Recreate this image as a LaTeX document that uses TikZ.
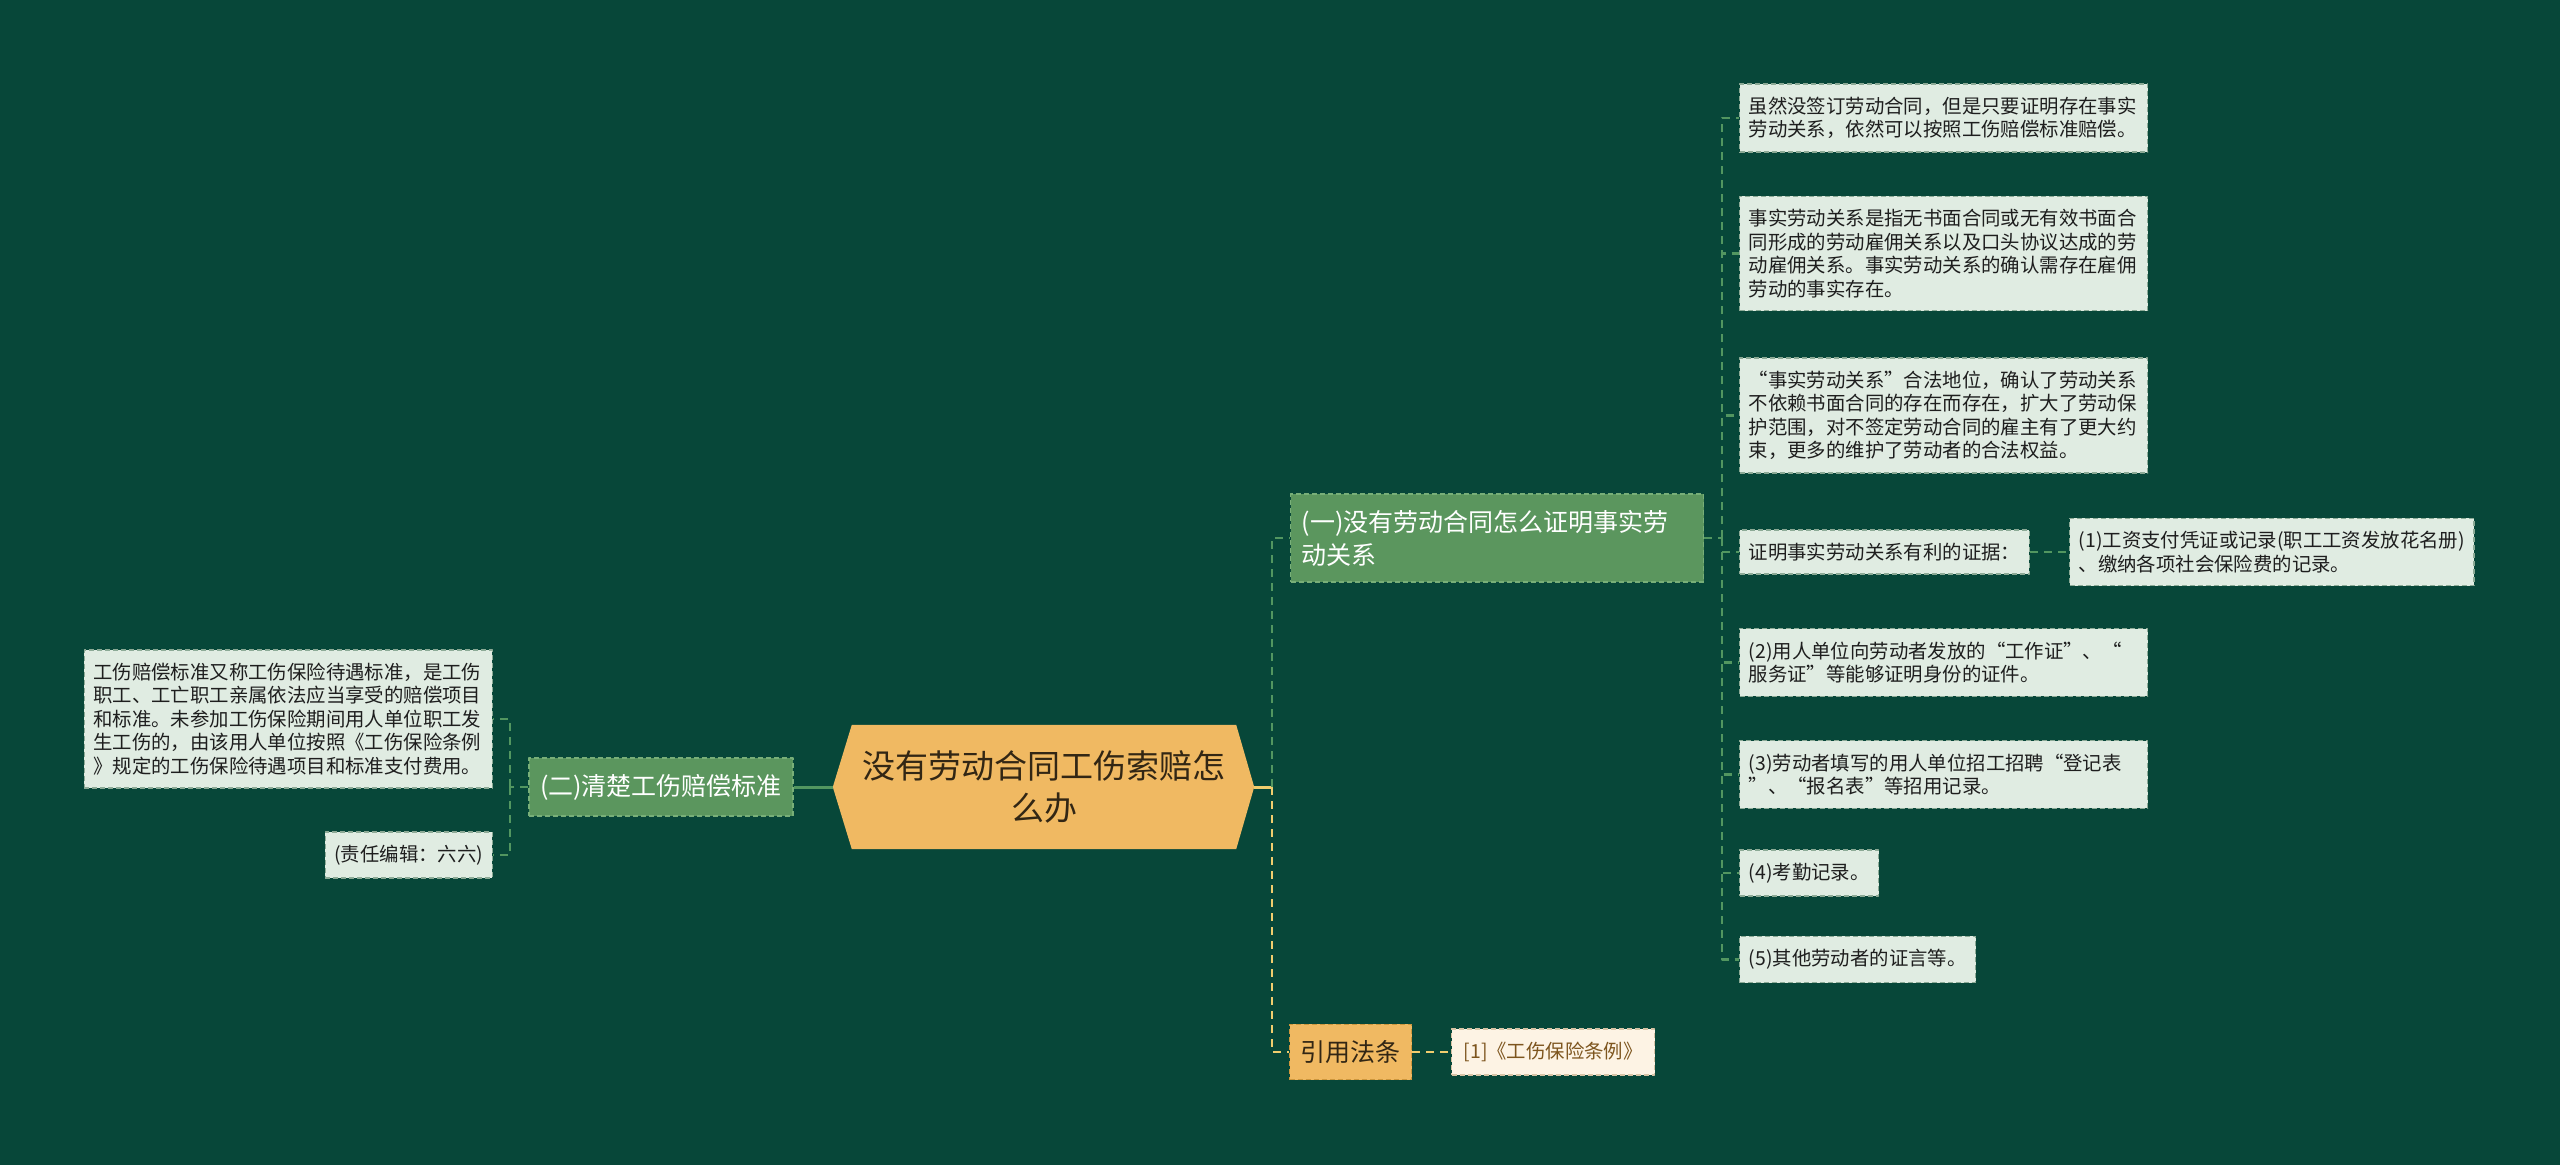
\documentclass[tikz,border=0pt]{standalone}
\usepackage{fontspec}
\newfontfamily\cjk{Noto Sans CJK SC}
\usetikzlibrary{backgrounds}
\begin{document}
\begin{tikzpicture}[x=1pt, y=-1pt, line join=round,
  leaf/.style={draw=leafedge, fill=leafbg, dash pattern=on 5pt off 3pt, line width=1.4pt,
    text=leafink, font=\cjk\fontsize{19.4}{23.5}\selectfont, inner xsep=9pt, inner ysep=13pt,
    align=left, anchor=west},
  wideleaf/.style={leaf, text width=390pt},
  topic/.style={draw=topicedge, fill=topicbg, dash pattern=on 5pt off 3pt, line width=1.4pt,
    text=white, font=\cjk\fontsize{25}{33}\selectfont, inner xsep=11pt, inner ysep=16pt, align=left},
  lawnode/.style={topic, draw=lawedge, fill=rootbg, text=rootink},
  lawleaf/.style={leaf, draw=creamedge, fill=creambg, text=creamink},
  glink/.style={draw=linkgreen, line width=2.2pt, dash pattern=on 8pt off 6pt},
  olink/.style={glink, draw=linkorange}]
  \definecolor{pagebg}{RGB}{7,71,57}
  \definecolor{topicbg}{RGB}{91,150,94}
  \definecolor{topicedge}{RGB}{120,175,120}
  \definecolor{rootbg}{RGB}{240,185,98}
  \definecolor{rootink}{RGB}{50,38,20}
  \definecolor{lawedge}{RGB}{205,150,60}
  \definecolor{leafbg}{RGB}{224,236,226}
  \definecolor{leafedge}{RGB}{140,170,150}
  \definecolor{leafink}{RGB}{30,30,30}
  \definecolor{creambg}{RGB}{253,243,228}
  \definecolor{creamedge}{RGB}{215,195,165}
  \definecolor{creamink}{RGB}{125,85,30}
  \definecolor{linkgreen}{RGB}{82,150,96}
  \definecolor{linkorange}{RGB}{240,205,110}
  \useasboundingbox (0,0) rectangle (2560,1165);

  \node[text=rootink, font=\cjk\fontsize{33}{42}\selectfont, minimum width=384pt, minimum height=124pt,
    text width=370pt, align=center, inner sep=0pt] (root) at (1044,787) {没有劳动合同工伤索赔怎\\么办};
  \begin{scope}[on background layer]
    \fill[pagebg] (0,0) rectangle (2560,1165);
    \fill[rootbg] (root.north west) -- (root.north east) -- ([xshift=18pt]root.east)
      -- (root.south east) -- (root.south west) -- ([xshift=-19pt]root.west) -- cycle;
  \end{scope}

  \node[topic, text width=391pt, anchor=west] (proof) at (1290,538) {(一)没有劳动合同怎么证明事实劳\\动关系};
  \node[topic] (standard) at (661,787) {(二)清楚工伤赔偿标准};
  \node[lawnode, anchor=west] (law) at (1289,1052) {引用法条};
  \node[lawleaf, inner xsep=12pt] (lawref) at (1451,1052) {[1]《工伤保险条例》};

  \node[wideleaf] (fa) at (1739,118) {虽然没签订劳动合同，但是只要证明存在事实\\劳动关系，依然可以按照工伤赔偿标准赔偿。};
  \node[wideleaf] (fb) at (1739,253.5) {事实劳动关系是指无书面合同或无有效书面合\\同形成的劳动雇佣关系以及口头协议达成的劳\\动雇佣关系。事实劳动关系的确认需存在雇佣\\劳动的事实存在。};
  \node[wideleaf] (fc) at (1739,415.5) {“事实劳动关系”合法地位，确认了劳动关系\\不依赖书面合同的存在而存在，扩大了劳动保\\护范围，对不签定劳动合同的雇主有了更大约\\束，更多的维护了劳动者的合法权益。};
  \node[leaf] (fd) at (1739,552) {证明事实劳动关系有利的证据：};
  \node[leaf] (fd1) at (2069,552) {(1)工资支付凭证或记录(职工工资发放花名册)\\、缴纳各项社会保险费的记录。};
  \node[wideleaf] (fe) at (1739,662.5) {(2)用人单位向劳动者发放的“工作证”、“\\服务证”等能够证明身份的证件。};
  \node[wideleaf] (ff) at (1739,774.5) {(3)劳动者填写的用人单位招工招聘“登记表\\”、“报名表”等招用记录。};
  \node[leaf] (fg) at (1739,873) {(4)考勤记录。};
  \node[leaf] (fh) at (1739,959.5) {(5)其他劳动者的证言等。};

  \node[wideleaf, anchor=east] (sa) at (493,719) {工伤赔偿标准又称工伤保险待遇标准，是工伤\\职工、工亡职工亲属依法应当享受的赔偿项目\\和标准。未参加工伤保险期间用人单位职工发\\生工伤的，由该用人单位按照《工伤保险条例\\》规定的工伤保险待遇项目和标准支付费用。};
  \node[leaf, anchor=east] (sb) at (493,855) {(责任编辑：六六)};

  \coordinate (rootR) at ([xshift=18pt]root.east);
  \coordinate (rootL) at ([xshift=-19pt]root.west);
  \coordinate (rootJ) at (1272,787);
  \coordinate (proofJ) at (1722,538);
  \coordinate (standardJ) at (510,787);
  \draw[linkorange, line width=3pt] (rootR) -- (rootJ);
  \draw[linkgreen, line width=3pt] (rootL) -- (standard.east);
  \draw[glink] (rootJ) |- (proof.west);
  \draw[olink] (rootJ) |- (law.west);
  \draw[olink] (law.east) -- (lawref.west);
  \draw[glink] (proof.east) -- (proofJ);
  \foreach \n in {fa,fb,fc,fd,fe,ff,fg,fh}
    \draw[glink] (proofJ) |- (\n.west);
  \draw[glink] (fd.east) -- (fd1.west);
  \draw[glink] (standard.west) -- (standardJ);
  \foreach \n in {sa,sb}
    \draw[glink] (standardJ) |- (\n.east);
\end{tikzpicture}
\end{document}
